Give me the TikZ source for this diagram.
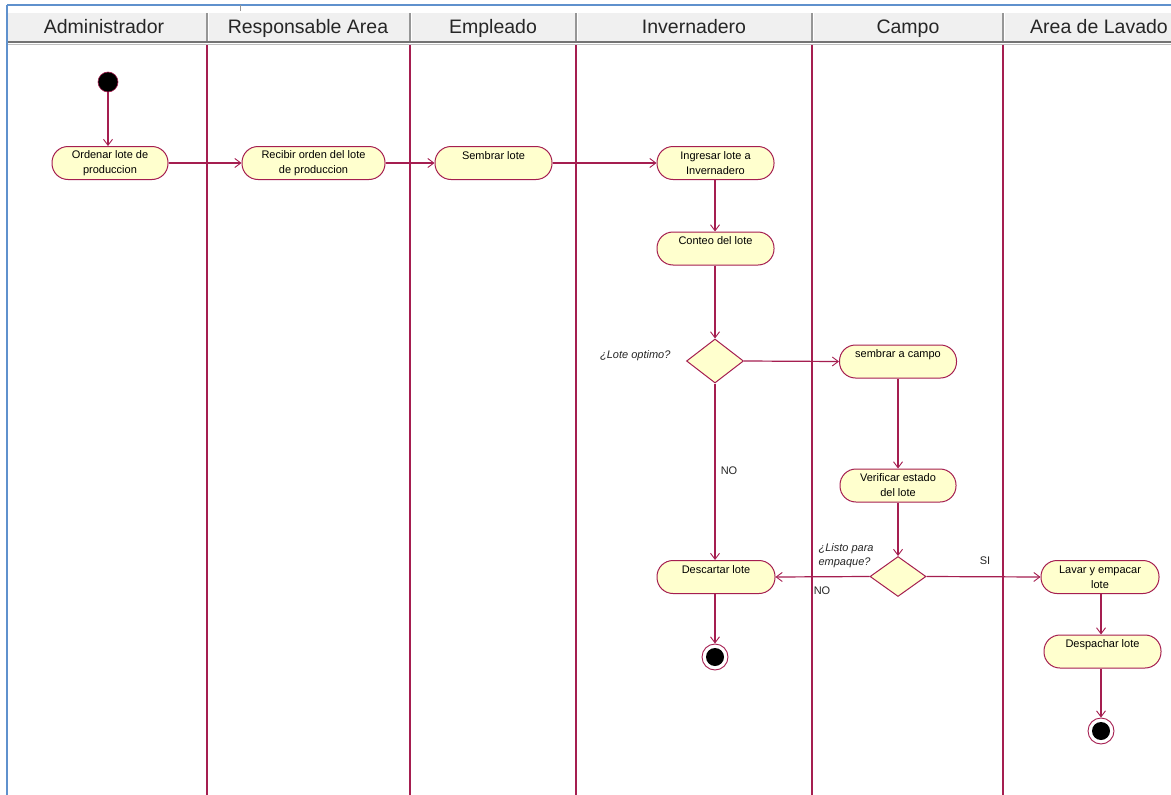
\documentclass[tikz,border=0pt]{standalone}
\usepackage{fontspec}
\setmainfont{Liberation Sans}
\usetikzlibrary{arrows.meta,shapes.geometric}
\definecolor{uml}{RGB}{165,30,80}
\definecolor{actfill}{RGB}{255,255,206}
\definecolor{hdrbg}{RGB}{240,240,240}
\definecolor{hdrline}{RGB}{150,150,150}
\definecolor{frame}{RGB}{95,145,205}
\tikzset{
  action/.style={draw=uml, line width=1pt, fill=actfill, rounded corners=16pt,
    minimum height=33pt, inner sep=0pt, align=center,
    font=\fontsize{11}{15}\selectfont},
  decision/.style={draw=uml, line width=1pt, fill=actfill, diamond, inner sep=0pt},
  flow/.style={draw=uml, line width=1.2pt, -{Straight Barb[length=6pt,width=9pt,line width=0.9pt]}},
  lane/.style={draw=uml, line width=1.4pt},
  hdr/.style={font=\fontsize{19.5}{21}\selectfont, text=black!85, text height=14pt, text depth=4pt, inner sep=0pt},
  guard/.style={font=\fontsize{11}{13}\selectfont, text=black!85},
  cond/.style={font=\itshape\fontsize{11}{14}\selectfont, text=black!85, align=left},
  startnode/.style={circle, fill=black, draw=uml, line width=0.6pt, minimum size=20pt, inner sep=0pt},
  endnode/.style={circle, draw=uml, line width=0.9pt, fill=white, minimum size=26pt, inner sep=0pt,
    path picture={\fill[black] (path picture bounding box.center) circle (9pt);}}
}
\begin{document}
\begin{tikzpicture}[x=1pt,y=-1pt]
\useasboundingbox (0,0) rectangle (1171,795);
\fill[white] (0,0) rectangle (1171,795);

% window frame
\draw[frame, line width=2pt] (7,5) -- (1171,5);
\draw[frame, line width=2pt] (7,5) -- (7,795);
\draw[hdrline, line width=0.8pt] (240,5) -- (240,11);

% header band
\fill[hdrbg] (8,12) rectangle (1171,41);
\draw[white, line width=1pt] (8,12.5) -- (1171,12.5);
\draw[black!55, line width=2pt] (8,42) -- (1171,42);
\draw[black!25, line width=1pt] (8,44.5) -- (1171,44.5);
\foreach \x in {207,410,576,812,1003} {
  \draw[hdrline, line width=1.2pt] (\x,13) -- (\x,41);
  \draw[white, line width=1pt] (\x+1.5,13) -- (\x+1.5,41);
}

% lane headers
\node[hdr] (hAdm) at (104,28.5) {Administrador};
\node[hdr] (hResp) at (308,28.5) {Responsable Area};
\node[hdr] (hEmp) at (493,28.5) {Empleado};
\node[hdr] (hInv) at (694,28.5) {Invernadero};
\node[hdr] (hCam) at (908,28.5) {Campo};
\node[hdr] (hLav) at (1099,28.5) {Area de Lavado};

% swimlane separators
\foreach \x in {207,410,576,812,1003}
  \draw[lane] (\x,45) -- (\x,795);

% activities
\node[startnode] (start) at (108,82) {};
\node[action, minimum width=116pt] (ordenar) at (110,163) {Ordenar lote de\\produccion};
\node[action, minimum width=143pt] (recibir) at (313.5,163) {Recibir orden del lote\\de produccion};
\node[action, minimum width=117pt] (sembrar) at (493.5,163) {Sembrar lote\\\mbox{}};
\node[action, minimum width=117pt] (ingresar) at (715.5,163) {Ingresar lote a\\Invernadero};
\node[action, minimum width=117pt] (conteo) at (715.5,248.5) {Conteo del lote\\\mbox{}};
\node[decision, minimum width=57pt, minimum height=44pt] (optimo) at (715,361) {};
\node[cond, anchor=east] (qOptimo) at (674,356) {¿Lote optimo?};
\node[action, minimum width=117pt] (campo) at (898,361.5) {sembrar a campo\\\mbox{}};
\node[action, minimum width=116pt] (verificar) at (898,485.5) {Verificar estado\\del lote};
\node[decision, minimum width=56pt, minimum height=40pt] (listo) at (898,576.5) {};
\node[cond, anchor=south west] (qListo) at (815,571) {¿Listo para\\empaque?};
\node[action, minimum width=118pt] (descartar) at (716,577) {Descartar lote\\\mbox{}};
\node[endnode] (fin1) at (715,657) {};
\node[action, minimum width=118pt] (lavar) at (1100,577) {Lavar y empacar\\lote};
\node[action, minimum width=117pt] (despachar) at (1102.5,651.5) {Despachar lote\\\mbox{}};
\node[endnode] (fin2) at (1101,731) {};

% guards
\node[guard] (gNo1) at (729,471) {NO};
\node[guard] (gSi) at (985,561) {SI};
\node[guard] (gNo2) at (822,591) {NO};

% control flows
\draw[flow] (start) -- (start |- ordenar.north);
\draw[flow] (ordenar.east) -- (recibir.west);
\draw[flow] (recibir.east) -- (sembrar.west);
\draw[flow] (sembrar.east) -- (ingresar.west);
\draw[flow] (ingresar.south -| optimo) -- (conteo.north -| optimo);
\draw[flow] (conteo.south -| optimo) -- (optimo.north);
\draw[flow] (optimo.east) -- (campo.west);
\draw[flow] (optimo.south) -- (optimo |- descartar.north);
\draw[flow] (descartar.south -| fin1) -- (fin1.north);
\draw[flow] (campo.south) -- (verificar.north);
\draw[flow] (verificar.south) -- (listo.north);
\draw[flow] (listo.west) -- (descartar.east);
\draw[flow] (listo.east) -- (lavar.west);
\draw[flow] (lavar.south -| fin2) -- (fin2 |- despachar.north);
\draw[flow] (despachar.south -| fin2) -- (fin2.north);
\end{tikzpicture}
\end{document}
